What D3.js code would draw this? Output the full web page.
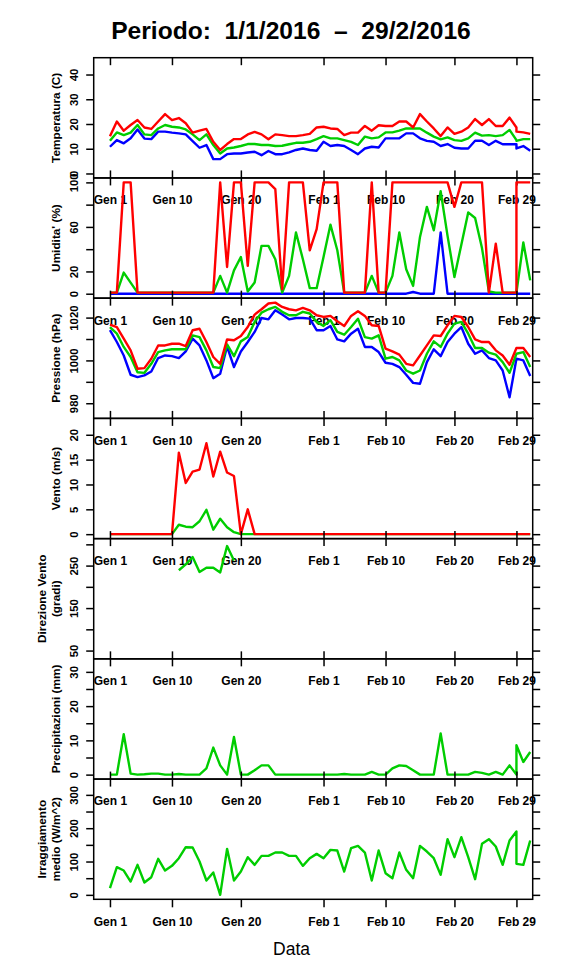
<!DOCTYPE html>
<html>
<head>
<meta charset="utf-8">
<script src="https://cdn.jsdelivr.net/npm/d3@7"></script>
<style>
  body { margin: 0; background: #fff; }
  svg { display: block; font-family: "Liberation Sans", Arial, Helvetica, sans-serif; }
</style>
</head>
<body>
<svg id="chart" width="576" height="972"></svg>
<script>
// Giorni: 1/1 .. 29/2, poi tre righe in coda (29/2 ripetuto, 1/3, 2/3)
const dates = d3.timeDay.range(new Date(2016, 0, 1), new Date(2016, 2, 1))
    .concat([new Date(2016, 1, 29), new Date(2016, 2, 1), new Date(2016, 2, 2)]);

const xTickDates = [new Date(2016, 0, 1), new Date(2016, 0, 10), new Date(2016, 0, 20),
    new Date(2016, 1, 1), new Date(2016, 1, 10), new Date(2016, 1, 20), new Date(2016, 1, 29)];
const xTickLabels = ["Gen 1", "Gen 10", "Gen 20", "Feb 1", "Feb 10", "Feb 20", "Feb 29"];

// Temperatura (C)
const tMax = [15, 21, 17.3, 19.6, 21.6, 18.6, 18, 21, 24, 21.6,
    22.4, 20.3, 16.5, 17.3, 18, 12.8, 9.5, 11.9, 13.9, 13.9,
    15.8, 16.8, 15.8, 13.8, 15.8, 15.5, 15.1, 15.1, 15.5, 16,
    18.6, 18.9, 18.2, 18, 15.5, 16.5, 16.5, 19.2, 17.3, 19.5,
    19.2, 19.2, 21, 21, 18.6, 24, 21, 18.2, 15.1, 18.6,
    16, 16.9, 18.6, 22, 19.6, 22, 19.2, 19.2, 22.6, 18.6,
    16.9, 16.6, 16];
const tMean = [13.2, 16.6, 15.5, 16.5, 19.6, 15.8, 15.5, 18.2, 19.6, 18.9,
    18.6, 17.8, 15.8, 13.5, 15.8, 11.5, 8.1, 10.1, 10.5, 11.1,
    11.9, 11.9, 11.5, 11.5, 11.1, 11.2, 11.8, 12.4, 12.4, 12.8,
    13.9, 15.1, 14.2, 14.2, 13.5, 12.8, 11.5, 14.9, 14.2, 14.6,
    16.6, 16.6, 17.3, 18.2, 18.2, 18.2, 16.5, 14.9, 13.8, 14.6,
    13.5, 13.2, 14.2, 16.5, 15.3, 15.5, 15.1, 15.5, 17.6, 13.5,
    13.2, 13.9, 13.9];
const tMin = [10.8, 13.5, 12.2, 14.2, 17.8, 14.1, 13.9, 16.9, 16.9, 16.5,
    16.2, 15.8, 13.1, 10.4, 11.5, 5.8, 5.8, 7.8, 8.1, 8.1,
    8.5, 8.8, 7.4, 9.1, 7.8, 7.8, 8.5, 9.5, 10.1, 9.5,
    9.2, 12.8, 11.1, 11.5, 11.1, 9.5, 7.8, 10.1, 10.8, 10.5,
    14.2, 14.2, 14.2, 16.2, 16.2, 14.2, 13.2, 12.8, 11.1, 11.9,
    10.4, 10.1, 10.1, 13.2, 13.2, 11.5, 13.2, 11.8, 11.8, 11.8,
    10.1, 11.1, 9.2];

// Umidita' (%)
const hMax = [1, 1, 100, 100, 1, 1, 1, 1, 1, 1,
    1, 1, 1, 1, 1, 1, 100, 24, 100, 100,
    25, 100, 100, 100, 94, 4, 100, 100, 100, 39,
    58, 100, 100, 100, 1, 1, 1, 1, 100, 1,
    1, 100, 100, 100, 100, 100, 100, 100, 100, 100,
    78, 100, 100, 100, 100, 1, 45, 1, 1, 1,
    100, 100, 100];
const hMean = [1, 1, 19, 10, 1, 1, 1, 1, 1, 1,
    1, 1, 1, 1, 1, 1, 16, 1, 21, 33,
    2, 10, 43, 43, 31, 1, 16, 55, 31, 5,
    5, 33, 62, 39, 1, 1, 1, 1, 16, 1,
    1, 16, 55, 22, 7, 51, 78, 57, 92, 52,
    15, 44, 73, 68, 41, 2, 1, 1, 1, 1,
    1, 46, 12];
const hMin = [0, 0, 0, 0, 0, 0, 0, 0, 0, 0,
    0, 0, 0, 0, 0, 0, 0, 0, 0, 0,
    0, 0, 0, 0, 0, 0, 0, 0, 0, 0,
    0, 0, 0, 0, 0, 0, 0, 0, 0, 0,
    0, 0, 0, 0, 1.5, 0, 0, 0, 55, 0,
    0, 0, 0, 0, 0, 0, 0, 0, 0, 0,
    0, 0, 0];

// Pressione (hPa)
const pMax = [1016.7, 1015.6, 1010.2, 1004.7, 996.1, 996.4, 1000.8, 1007, 1007, 1007.8,
    1007.8, 1006.7, 1014.1, 1014.8, 1008.6, 1001.6, 998.4, 1009.8, 1009.4, 1011.4,
    1015.6, 1021.4, 1023.9, 1026.6, 1027, 1025, 1023.9, 1023.4, 1024.5, 1023.4,
    1021.1, 1020.3, 1020.8, 1018.3, 1016.1, 1020.8, 1023, 1020.8, 1016.4, 1016.1,
    1005.5, 1004.2, 1002.7, 998.4, 997.7, 1002.3, 1007, 1011.7, 1011.4, 1016.4,
    1020.8, 1020.3, 1015.6, 1009.8, 1008.6, 1008.6, 1004.7, 1002.3, 998, 1005.8,
    1005.8, 1005.8, 1001.6];
const pMean = [1015.6, 1012.5, 1006.3, 1001.6, 994.5, 994.2, 998.4, 1003.9, 1004.7, 1005.2,
    1005.2, 1005.2, 1011.7, 1010.9, 1004.7, 996.9, 996.4, 1007.5, 1002, 1008.9,
    1010.9, 1018, 1022.3, 1023.9, 1025, 1022.7, 1021.1, 1021.1, 1022.7, 1021.9,
    1018, 1016.1, 1018.8, 1013.3, 1012, 1015.6, 1019.5, 1010.9, 1010.2, 1011.7,
    1000.8, 1001.6, 1000, 995.3, 993.8, 995.3, 1003.1, 1008.9, 1006.3, 1012.5,
    1017.2, 1018, 1012.5, 1005.8, 1005.8, 1003.6, 1002.7, 999.2, 994.2, 1003.1,
    1003.1, 1003.9, 996.9];
const pMin = [1014.1, 1008.6, 1002.3, 993.3, 992.2, 993, 994.8, 1001.1, 1002.3, 1002,
    1001.1, 1004.2, 1010.2, 1007, 1000, 991.7, 993.8, 1006.5, 996.9, 1004.2,
    1008.6, 1013.3, 1019.8, 1019.2, 1023.4, 1021.4, 1019.2, 1019.8, 1019.8, 1019.5,
    1014.1, 1014.1, 1016.1, 1009.8, 1008.9, 1012.5, 1014.8, 1006.3, 1006.3, 1003.9,
    998.9, 998.4, 996.9, 993.3, 989.5, 989.1, 999.2, 1005.2, 1002, 1008.6,
    1012.5, 1015.6, 1007.8, 1003.1, 1004.7, 1001.1, 1000, 995.3, 982.8, 1000.8,
    1000.8, 1000, 992.7];

// Vento (m/s)
const wMax = [0, 0, 0, 0, 0, 0, 0, 0, 0, 0,
    16.4, 10.3, 12.6, 13, 18.3, 11.6, 16.6, 12.4, 11.7, 0,
    5, 0, 0, 0, 0, 0, 0, 0, 0, 0,
    0, 0, 0, 0, 0, 0, 0, 0, 0, 0,
    0, 0, 0, 0, 0, 0, 0, 0, 0, 0,
    0, 0, 0, 0, 0, 0, 0, 0, 0, 0,
    0, 0, 0];
const wMean = [0, 0, 0, 0, 0, 0, 0, 0, 0, 0,
    1.9, 1.5, 1.4, 2.6, 4.9, 0.9, 3.1, 1.4, 0.4, 0,
    0, 0, 0, 0, 0, 0, 0, 0, 0, 0,
    0, 0, 0, 0, 0, 0, 0, 0, 0, 0,
    0, 0, 0, 0, 0, 0, 0, 0, 0, 0,
    0, 0, 0, 0, 0, 0, 0, 0, 0, 0,
    0, 0, 0];

// Direzione vento (gradi), solo dove c'e' vento
const wDir = [null, null, null, null, null, null, null, null, null, null,
    239, 253, 270, 235, 245, 245, 234, 296, 262, null,
    null, null, null, null, null, null, null, null, null, null,
    null, null, null, null, null, null, null, null, null, null,
    null, null, null, null, null, null, null, null, null, null,
    null, null, null, null, null, null, null, null, null, null,
    null, null, null];

// Precipitazioni (mm)
const rain = [0, 0, 11.8, 0.3, 0, 0.1, 0.3, 0.3, 0, 0,
    0.2, 0, 0, 0, 1.8, 7.9, 2.7, 0, 11, 0,
    0, 1.3, 2.7, 2.7, 0, 0, 0, 0, 0, 0,
    0, 0, 0, 0, 0.2, 0, 0, 0, 0.8, 0,
    0, 1.8, 2.7, 2.5, 1.3, 0, 0, 0, 12, 0,
    0, 0, 0, 0.8, 0.5, 0, 0.8, 0, 2.7, 0,
    8.6, 3.7, 6.6];

// Irraggiamento medio (W/m^2)
const rad = [20, 83, 73, 40, 90, 37, 53, 108, 73, 87,
    110, 143, 142, 100, 43, 67, 0, 138, 43, 70,
    113, 90, 117, 117, 127, 127, 117, 117, 87, 110,
    123, 110, 135, 133, 70, 140, 147, 127, 43, 133,
    65, 50, 127, 75, 50, 147, 130, 110, 60, 167,
    113, 173, 113, 47, 153, 167, 145, 90, 163, 190,
    93, 90, 163];

const red = "#ff0000", green = "#00cd00", blue = "#0000ff";

const panels = [
    { title: ["Temperatura (C)"], ylim: [0, 45], ticks: [0, 10, 20, 30, 40], labels: [0, 10, 20, 30, 40],
      series: [[tMin, blue], [tMean, green], [tMax, red]] },
    { title: ["Umidita' (%)"], ylim: [0, 100], ticks: [0, 20, 40, 60, 80, 100], labels: [0, 20, 60, 100],
      series: [[hMin, blue], [hMean, green], [hMax, red]] },
    { title: ["Pressione (hPa)"], ylim: [975, 1027], ticks: [980, 990, 1000, 1010, 1020], labels: [980, 1000, 1020],
      series: [[pMin, blue], [pMean, green], [pMax, red]] },
    { title: ["Vento (m/s)"], ylim: [0, 22.4], ticks: [0, 5, 10, 15, 20], labels: [0, 5, 10, 15, 20],
      series: [[wMean, green], [wMax, red]] },
    { title: ["Direzione Vento", "(gradi)"], ylim: [41, 303], ticks: [50, 100, 150, 200, 250, 300], labels: [50, 150, 250],
      series: [[wDir, green]] },
    { title: ["Precipitazioni (mm)"], ylim: [0, 32.5], ticks: [0, 5, 10, 15, 20, 25, 30], labels: [0, 10, 20, 30],
      series: [[rain, green]] },
    { title: ["Irraggiamento", "medio (W/m^2)"], ylim: [0, 334], ticks: [0, 50, 100, 150, 200, 250, 300], labels: [0, 100, 200, 300],
      series: [[rad, green]] }
];

// geometria
const left = 93.7, right = 532.7, top0 = 57.7, panelH = 120.23;
const tick = 7.5;

const svg = d3.select("#chart");

// asse x come in R: 4% di margine ai lati
const xStart = new Date(2016, 0, 1), xEnd = new Date(2016, 1, 29);
const xPad = (xEnd - xStart) * 0.04;
const x = d3.scaleTime()
    .domain([new Date(+xStart - xPad), new Date(+xEnd + xPad)])
    .range([left, right]);

function styleAxis(g, size) {
    g.attr("font-family", null).attr("font-size", size).attr("font-weight", "bold");
    g.select(".domain").remove();
    g.selectAll("line").attr("stroke", "#000").attr("stroke-width", 1.5);
    g.selectAll("text").attr("fill", "#000");
}

panels.forEach((p, i) => {
    const top = top0 + i * panelH;
    const bottom = top + panelH;
    const span = p.ylim[1] - p.ylim[0];
    const y = d3.scaleLinear()
        .domain([p.ylim[0] - 0.04 * span, p.ylim[1] + 0.04 * span])
        .range([bottom, top]);

    const g = svg.append("g").attr("class", "panel panel-" + i);

    // asse y sinistro con etichette ruotate
    const yAxisL = g.append("g")
        .attr("transform", `translate(${left},0)`)
        .call(d3.axisLeft(y).tickValues(p.ticks).tickSize(tick)
            .tickFormat(d => p.labels.includes(d) ? d : ""));
    styleAxis(yAxisL, 11.3);
    yAxisL.selectAll("text")
        .attr("x", 0).attr("dy", null)
        .attr("text-anchor", "middle")
        .attr("transform", "translate(-16,0) rotate(-90)");

    // asse y destro, solo tacche
    const yAxisR = g.append("g")
        .attr("transform", `translate(${right},0)`)
        .call(d3.axisRight(y).tickValues(p.ticks).tickSize(tick).tickFormat(""));
    styleAxis(yAxisR, 11);

    // tacche in alto: verso l'interno nel primo pannello, verso l'alto negli altri
    const xAxisT = g.append("g")
        .attr("transform", `translate(0,${top})`)
        .call(d3.axisTop(x).tickValues(xTickDates).tickSize(i === 0 ? -tick : tick).tickFormat(""));
    styleAxis(xAxisT, 12);

    // asse x in basso con le date
    const xAxisB = g.append("g")
        .attr("transform", `translate(0,${bottom})`)
        .call(d3.axisBottom(x).tickValues(xTickDates).tickSize(i === panels.length - 1 ? 8 : tick)
            .tickFormat((d, k) => xTickLabels[k]));
    styleAxis(xAxisB, 12);
    xAxisB.selectAll("text").attr("y", 26.4).attr("dy", null);

    // riquadro
    g.append("rect")
        .attr("x", left).attr("y", top)
        .attr("width", right - left).attr("height", panelH)
        .attr("fill", "none").attr("stroke", "#000").attr("stroke-width", 1.5);

    // titolo asse y
    const tx = p.title.length === 1 ? [60] : [46, 60];
    p.title.forEach((t, k) => {
        g.append("text")
            .attr("transform", `translate(${tx[k]},${(top + bottom) / 2}) rotate(-90)`)
            .attr("text-anchor", "middle")
            .attr("font-size", 11.8).attr("font-weight", "bold")
            .text(t);
    });

    // linee, tagliate sul riquadro
    const clipId = "clip" + i;
    g.append("clipPath").attr("id", clipId)
        .append("rect")
        .attr("x", left).attr("y", top)
        .attr("width", right - left).attr("height", panelH);

    const line = d3.line()
        .defined(d => d[1] != null)
        .x(d => x(d[0]))
        .y(d => y(d[1]));

    p.series.forEach(([values, color]) => {
        g.append("path")
            .datum(dates.map((d, k) => [d, values[k]]))
            .attr("clip-path", `url(#${clipId})`)
            .attr("fill", "none")
            .attr("stroke", color)
            .attr("stroke-width", 2.4)
            .attr("stroke-linejoin", "round")
            .attr("d", line);
    });
});

// titolo e etichetta asse x
svg.append("text")
    .attr("x", 291).attr("y", 38.5)
    .attr("text-anchor", "middle")
    .attr("font-size", 24.6).attr("font-weight", "bold")
    .style("white-space", "pre")
    .text("Periodo:  1/1/2016  \u2013  29/2/2016");

svg.append("text")
    .attr("x", 291.5).attr("y", 955)
    .attr("text-anchor", "middle")
    .attr("font-size", 17.5)
    .text("Data");
</script>
</body>
</html>
